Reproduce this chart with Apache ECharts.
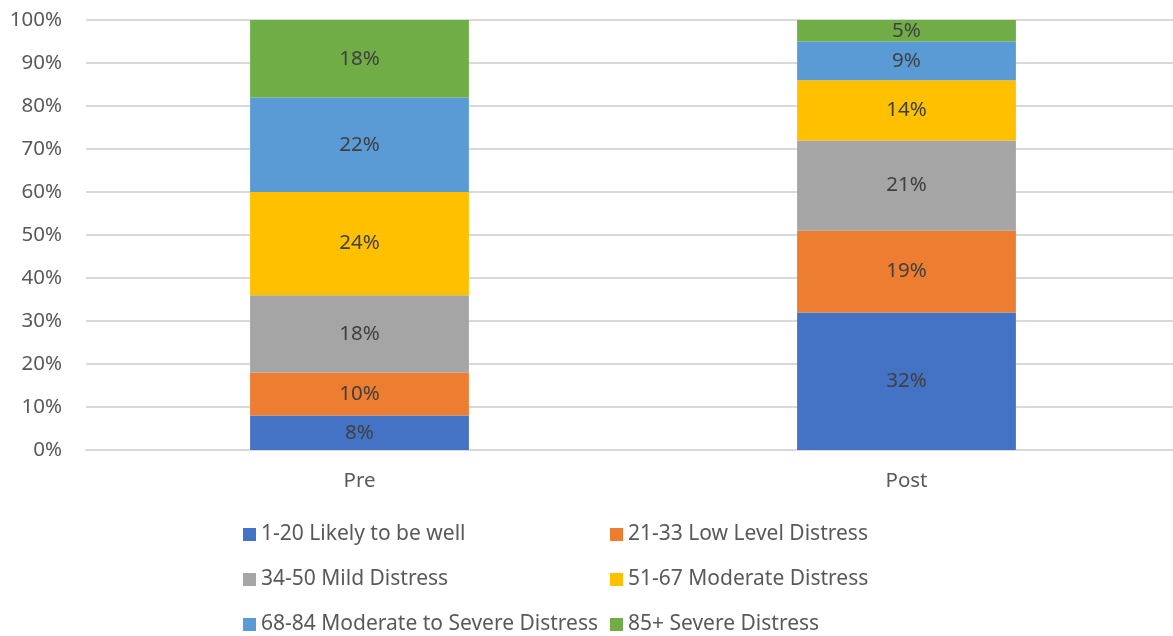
<!DOCTYPE html>
<html>
<head>
<meta charset="utf-8">
<script src="https://cdn.jsdelivr.net/npm/echarts@6/dist/echarts.min.js"></script>
<style>html,body{margin:0;padding:0;background:#fff;overflow:hidden;}#c{width:1180px;height:636px;}</style>
</head>
<body>
<div id="c"></div>
<script>
const categories = ['Pre', 'Post'];
const seriesNames = ['1-20 Likely to be well', '21-33 Low Level Distress', '34-50 Mild Distress', '51-67 Moderate Distress', '68-84 Moderate to Severe Distress', '85+ Severe Distress'];
const s1 = [8, 32];
const s2 = [10, 19];
const s3 = [18, 21];
const s4 = [24, 14];
const s5 = [22, 9];
const s6 = [18, 5];
const colors = ['#4472C4', '#ED7D31', '#A5A5A5', '#FFC000', '#5B9BD5', '#70AD47'];
const yTicks = [0, 10, 20, 30, 40, 50, 60, 70, 80, 90, 100];

const FONT = 'Noto Sans';
const FS = 20.5;
const values = [s1, s2, s3, s4, s5, s6];
const series = values.map((v, i) => ({
  name: seriesNames[i],
  type: 'bar',
  stack: 'total',
  barWidth: '40%',
  data: v,
  itemStyle: { color: colors[i] },
  label: { show: true, position: 'inside', formatter: '{c}%', color: '#404040', fontSize: FS, fontFamily: FONT }
}));

const legendPos = [
  { left: 243, top: 524 }, { left: 610, top: 524 },
  { left: 243, top: 569 }, { left: 610, top: 569 },
  { left: 243, top: 614 }, { left: 610, top: 614 }
];
const legends = seriesNames.map((n, i) => ({
  data: [n], left: legendPos[i].left, top: legendPos[i].top,
  icon: 'rect', itemWidth: 13, itemHeight: 13, itemGap: 4,
  textStyle: { color: '#595959', fontSize: 21, fontFamily: FONT, padding: [0, 0, 0, 0] },
  padding: 0, selectedMode: false
}));

const chart = echarts.init(document.getElementById('c'));
chart.setOption({
  animation: false,
  color: colors,
  grid: { left: 86, right: 0, top: 20, bottom: 186, containLabel: false },
  legend: legends,
  xAxis: {
    type: 'category', data: categories,
    axisLine: { show: true, lineStyle: { color: '#d9d9d9', width: 2 } },
    axisTick: { show: false },
    axisLabel: { color: '#595959', fontSize: FS, fontFamily: FONT, margin: 21 }
  },
  yAxis: {
    type: 'value', min: 0, max: 100, interval: 10,
    axisLine: { show: false }, axisTick: { show: false },
    splitLine: { lineStyle: { color: '#d9d9d9', width: 2 } },
    axisLabel: { color: '#595959', fontSize: FS, fontFamily: FONT, margin: 24, formatter: v => yTicks.includes(v) ? v + '%' : '' }
  },
  series: series
});
</script>
</body>
</html>
